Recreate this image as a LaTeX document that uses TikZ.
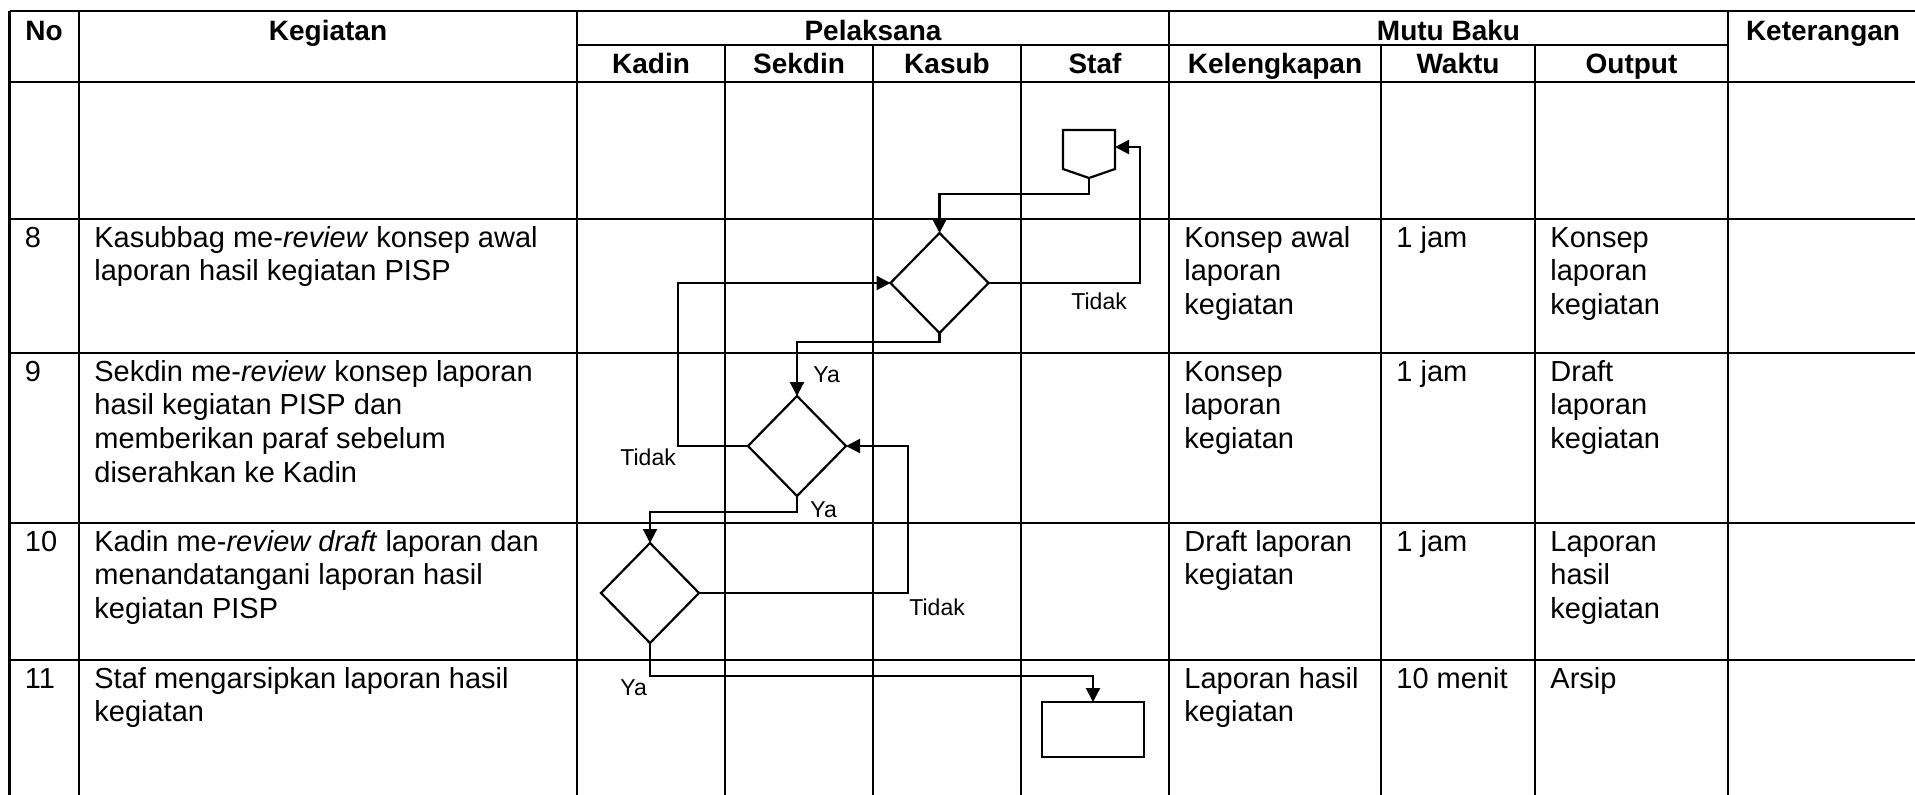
\documentclass[tikz,border=0pt]{standalone}
\usepackage{fontspec}
\setmainfont{Liberation Sans}
\usetikzlibrary{shapes.geometric,arrows.meta}
\newcommand\celltext[1]{\begin{tabular}[t]{@{}l@{}}#1\end{tabular}}
\begin{document}
\begin{tikzpicture}[x=0.5pt,y=-0.5pt,
  grid/.style={line width=1.35pt},
  flow/.style={line width=1.1pt},
  flowarrow/.style={flow,-{Triangle[length=7pt,width=7pt]}},
  head/.style={font=\fontsize{14}{16.9}\selectfont\bfseries, anchor=base, inner sep=0},
  body/.style={font=\fontsize{14.5}{16.9}\selectfont, anchor=base west, inner sep=0},
  lbl/.style={font=\fontsize{11.5}{13.8}\selectfont, anchor=base west, inner sep=0},
  decision/.style={diamond, draw, flow, minimum width=49pt, minimum height=50pt, inner sep=0, outer sep=0},
  process/.style={rectangle, draw, flow, minimum width=51pt, minimum height=27.5pt, inner sep=0, outer sep=0},
  pagebox/.style={rectangle, minimum width=26pt, minimum height=24pt, inner sep=0, outer sep=0}
]
\clip (0,0) rectangle (1915,794);

% ---- table grid ----
\draw[grid] (9.5,11) -- (1930,11);
\draw[grid] (577,45) -- (1728,45);
\foreach \yy in {82,219,353,523,660}
  \draw[grid] (9.5,\yy) -- (1930,\yy);
\foreach \xx in {9.5,79,577,1169,1728}
  \draw[grid] (\xx,11) -- (\xx,800);
\foreach \xx in {725,873,1021,1381,1535}
  \draw[grid] (\xx,45) -- (\xx,800);

% ---- header ----
\node[head] (hNo)   at (44,40)     {No};
\node[head] (hKeg)  at (328,40)    {Kegiatan};
\node[head] (hPel)  at (873,40)    {Pelaksana};
\node[head] (hMutu) at (1448.5,40) {Mutu Baku};
\node[head] (hKet)  at (1823,40)   {Keterangan};
\node[head] (hKadin)  at (651,73)    {Kadin};
\node[head] (hSekdin) at (799,73)    {Sekdin};
\node[head] (hKasub)  at (947,73)    {Kasub};
\node[head] (hStaf)   at (1095,73)   {Staf};
\node[head] (hKel)    at (1275,73)   {Kelengkapan};
\node[head] (hWaktu)  at (1458,73)   {Waktu};
\node[head] (hOut)    at (1631.5,73) {Output};

% ---- row 8 ----
\node[body] (n8) at (24.5,247) {8};
\node[body] (k8) at (94,247) {\celltext{Kasubbag me-\textit{review} konsep awal\\laporan hasil kegiatan PISP}};
\node[body] (m8) at (1184,247) {\celltext{Konsep awal\\laporan\\kegiatan}};
\node[body] (w8) at (1396,247) {1 jam};
\node[body] (o8) at (1550,247) {\celltext{Konsep\\laporan\\kegiatan}};

% ---- row 9 ----
\node[body] (n9) at (24.5,381) {9};
\node[body] (k9) at (94,381) {\celltext{Sekdin me-\textit{review} konsep laporan\\hasil kegiatan PISP dan\\memberikan paraf sebelum\\diserahkan ke Kadin}};
\node[body] (m9) at (1184,381) {\celltext{Konsep\\laporan\\kegiatan}};
\node[body] (w9) at (1396,381) {1 jam};
\node[body] (o9) at (1550,381) {\celltext{Draft\\laporan\\kegiatan}};

% ---- row 10 ----
\node[body] (n10) at (24.5,551) {10};
\node[body] (k10) at (94,551) {\celltext{Kadin me-\textit{review draft} laporan dan\\menandatangani laporan hasil\\kegiatan PISP}};
\node[body] (m10) at (1184,551) {\celltext{Draft laporan\\kegiatan}};
\node[body] (w10) at (1396,551) {1 jam};
\node[body] (o10) at (1550,551) {\celltext{Laporan\\hasil\\kegiatan}};

% ---- row 11 ----
\node[body] (n11) at (24.5,688) {11};
\node[body] (k11) at (94,688) {\celltext{Staf mengarsipkan laporan hasil\\kegiatan}};
\node[body] (m11) at (1184,688) {\celltext{Laporan hasil\\kegiatan}};
\node[body] (w11) at (1396,688) {10 menit};
\node[body] (o11) at (1550,688) {Arsip};

% ---- flow symbols ----
\node[pagebox] (conn) at (1089,154) {};
\draw[flow] (conn.north west) -- (conn.north east) -- ([yshift=4.5pt]conn.south east)
  -- (conn.south) -- ([yshift=4.5pt]conn.south west) -- cycle;
\node[decision] (d1) at (939.5,283) {};
\node[decision] (d2) at (797,446) {};
\node[decision] (d3) at (650,593) {};
\node[process]  (arsip) at (1093,729.5) {};

% ---- connectors ----
\draw[flowarrow] (conn.south) -- (1089,194) -- (939.5,194) -- (d1.north);
\draw[flowarrow] (d1.east) -- (1140,283) -- (1140,147) -- ([yshift=3.5pt]conn.east);
\draw[flowarrow] (d1.south) -- (939.5,342) -- (797,342) -- (d2.north);
\draw[flowarrow] (d2.west) -- (678,446) -- (678,283) -- (d1.west);
\draw[flowarrow] (d2.south) -- (797,512) -- (650,512) -- (d3.north);
\draw[flowarrow] (d3.east) -- (908,593) -- (908,446) -- (d2.east);
\draw[flowarrow] (d3.south) -- (650,676) -- (1093,676) -- (arsip.north);

% ---- branch labels ----
\node[lbl] (t1) at (1071,309) {Tidak};
\node[lbl] (y1) at (813,382)  {Ya};
\node[lbl] (t2) at (620,465)  {Tidak};
\node[lbl] (y2) at (810,517)  {Ya};
\node[lbl] (t3) at (909,615)  {Tidak};
\node[lbl] (y3) at (620,695)  {Ya};
\end{tikzpicture}
\end{document}
